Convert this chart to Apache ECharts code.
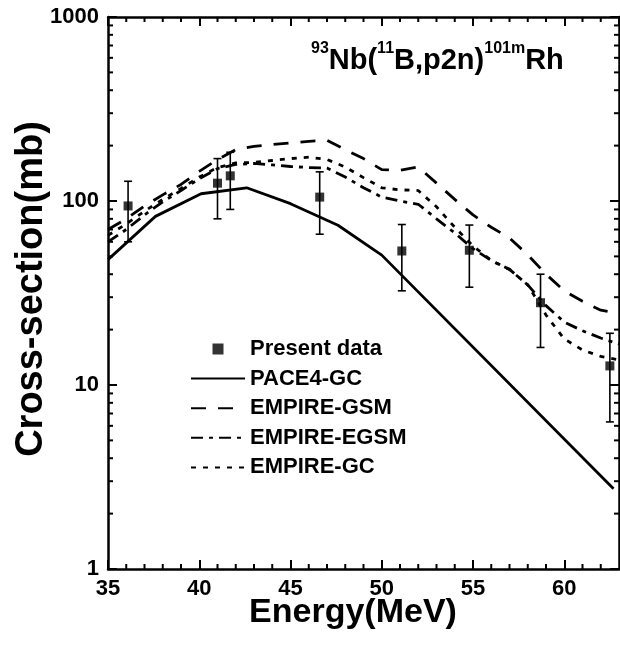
<!DOCTYPE html>
<html><head><meta charset="utf-8">
<script src="https://cdn.jsdelivr.net/npm/echarts@6/dist/echarts.min.js"></script>
<style>html,body{margin:0;padding:0;background:#fff}#c{width:620px;height:647px}</style>
</head><body><div id="c"></div>
<script>
// ---- data ----
const expEnergy = [36.1, 41.0, 41.7, 46.6, 51.1, 54.8, 58.7, 62.5];
const expCs     = [94, 125, 137, 105, 53.5, 54, 28, 12.7];
const expErr    = [34, 45, 47, 39, 21, 20, 12, 6.4];

const paceEnergy = [35, 37.6, 40.1, 42.6, 45.0, 47.6, 50.0, 62.7];
const paceCs     = [48, 82.5, 109.5, 118, 96.7, 73.8, 50.8, 2.73];

const empEnergy = [35,36,37,38,39,40,41,42,43,44,45,46,47,48,49,50,51,52,53,54,55,56,57,58,59,60,61,62,63];
const gsmCs  = [70,80,94,108,123,145,168,190,198,203,207,211,214,190,170,148,147,153,125,102,84,72,63,51,40,32.5,28.5,25.5,24.5];
const egsmCs = [60,70,84,99,114,132,150,158,160,157,154,152,151,135,118,105,100,96,80,67,55,47.5,42.5,35,27,22,19.7,18,16.7];
const gcCs   = [65,75,88,102,117,135,152,161,162,166,170,173,168,153,134,118,115,114,93,72,57,47.5,42.5,35,24,17.8,15.5,14.3,13.7];

const xTicks = [35, 40, 45, 50, 55, 60];
const xMinor = [36,37,38,39,41,42,43,44,46,47,48,49,51,52,53,54,56,57,58,59,61,62];
const yMinor = [2,3,4,5,6,7,8,9,20,30,40,50,60,70,80,90,200,300,400,500,600,700,800,900];

const FONT = '"Liberation Sans", Arial, sans-serif';
const zip = (a, b) => a.map((v, i) => [v, b[i]]);

const chart = echarts.init(document.getElementById('c'));

function axisCommon(pos, showLabel) {
  return {
    position: pos,
    axisLine: { show: true, onZero: false, lineStyle: { color: '#000', width: 2.5 } },
    axisTick: { show: true, inside: true, length: 9, lineStyle: { color: '#000', width: 2 } },
    splitLine: { show: false },
    axisLabel: { show: showLabel, color: '#000', fontSize: 22, fontWeight: 'bold', fontFamily: FONT, margin: 9,
      formatter: v => String(v) }
  };
}

const lineBase = (name, data, type) => ({
  name, type: 'line', data, symbol: 'none', showSymbol: false,
  lineStyle: { color: '#000', width: 2.8, type: type, cap: 'butt' },
  itemStyle: { color: '#000' }, z: 3, silent: true
});

const hideSym = { color: 'rgba(0,0,0,0)', borderWidth: 0, opacity: 0 };

chart.setOption({
  animation: false,
  backgroundColor: '#fff',
  grid: { left: 108, top: 17, width: 511, height: 552, containLabel: false },
  xAxis: [
    Object.assign({ type: 'value', min: 35, max: 63, interval: 5 }, axisCommon('bottom', true), {
      axisLabel: { show: true, color: '#000', fontSize: 22, fontWeight: 'bold', fontFamily: FONT, margin: 9, showMaxLabel: false,
        formatter: v => xTicks.indexOf(v) >= 0 ? String(v) : '' }
    }),
    Object.assign({ type: 'value', min: 35, max: 63, interval: 5 }, axisCommon('top', false))
  ],
  yAxis: [
    Object.assign({ type: 'log', logBase: 10, min: 1, max: 1000 }, axisCommon('left', true)),
    Object.assign({ type: 'log', logBase: 10, min: 1, max: 1000 }, axisCommon('right', false))
  ],
  legend: {
    orient: 'vertical', left: 185, top: 333, itemWidth: 54, itemHeight: 11, itemGap: 7.6,
    selectedMode: false, symbolKeepAspect: true,
    textStyle: { fontSize: 22, fontWeight: 'bold', color: '#000', fontFamily: FONT, lineHeight: 22 },
    data: [
      { name: 'Present data', icon: 'path://M0 0H10V10H0Z' },
      { name: 'PACE4-GC', itemStyle: hideSym },
      { name: 'EMPIRE-GSM', itemStyle: hideSym },
      { name: 'EMPIRE-EGSM', itemStyle: hideSym },
      { name: 'EMPIRE-GC', itemStyle: hideSym }
    ]
  },
  graphic: [
    { type: 'text', left: 311, top: 41, z: 10,
      style: {
        text: '{s|93}{m|Nb(}{s|11}{m|B,p2n)}{s|101m}{m|Rh}',
        fill: '#000',
        rich: {
          m: { fontSize: 29, fontWeight: 'bold', fontFamily: FONT, lineHeight: 34, verticalAlign: 'bottom', fill: '#000' },
          s: { fontSize: 16, fontWeight: 'bold', fontFamily: FONT, lineHeight: 16, verticalAlign: 'top', fill: '#000' }
        }
      } },
    { type: 'text', x: 353, y: 613, z: 10,
      style: { text: 'Energy(MeV)', align: 'center', verticalAlign: 'middle', fill: '#000', font: 'bold 34px ' + FONT } },
    { type: 'text', x: 32, y: 289, rotation: Math.PI / 2, z: 10,
      style: { text: 'Cross-section(mb)', align: 'center', verticalAlign: 'middle', fill: '#000', font: 'bold 38px ' + FONT } }
  ],
  series: [
    { name: 'Error bars', type: 'custom', silent: true, z: 4,
      data: expEnergy.map((e, i) => [e, expCs[i], expErr[i]]),
      renderItem: (params, api) => {
        const x = api.value(0), y = api.value(1), er = api.value(2);
        const hi = api.coord([x, y + er]);
        const lo = api.coord([x, y - er]);
        const st = { stroke: '#000', lineWidth: 1.6 };
        return { type: 'group', children: [
          { type: 'line', shape: { x1: hi[0], y1: hi[1], x2: lo[0], y2: lo[1] }, style: st },
          { type: 'line', shape: { x1: hi[0] - 4, y1: hi[1], x2: hi[0] + 4, y2: hi[1] }, style: st },
          { type: 'line', shape: { x1: lo[0] - 4, y1: lo[1], x2: lo[0] + 4, y2: lo[1] }, style: st }
        ] };
      } },
    { name: 'Present data', type: 'scatter', data: zip(expEnergy, expCs), symbol: 'rect', symbolSize: 9,
      itemStyle: { color: '#000' }, z: 5, silent: true },
    lineBase('PACE4-GC', zip(paceEnergy, paceCs), 'solid'),
    lineBase('EMPIRE-GSM', zip(empEnergy, gsmCs), [15, 12]),
    lineBase('EMPIRE-EGSM', zip(empEnergy, egsmCs), [12, 6, 4, 6]),
    lineBase('EMPIRE-GC', zip(empEnergy, gcCs), [5, 7]),
    { name: 'yMinorTicks', type: 'custom', silent: true, clip: false, z: 6,
      data: yMinor.map(v => [40, v]),
      renderItem: (params, api) => {
        const cs = params.coordSys;
        const y = api.coord([api.value(0), api.value(1)])[1];
        const st = { stroke: '#000', lineWidth: 2 };
        return { type: 'group', children: [
          { type: 'line', shape: { x1: cs.x, y1: y, x2: cs.x + 5, y2: y }, style: st },
          { type: 'line', shape: { x1: cs.x + cs.width - 5, y1: y, x2: cs.x + cs.width, y2: y }, style: st }
        ] };
      } },
    { name: 'xMinorTicks', type: 'custom', silent: true, clip: false, z: 6,
      data: xMinor.map(v => [v, 10]),
      renderItem: (params, api) => {
        const cs = params.coordSys;
        const x = api.coord([api.value(0), api.value(1)])[0];
        const st = { stroke: '#000', lineWidth: 2 };
        return { type: 'group', children: [
          { type: 'line', shape: { x1: x, y1: cs.y + cs.height, x2: x, y2: cs.y + cs.height - 5 }, style: st },
          { type: 'line', shape: { x1: x, y1: cs.y, x2: x, y2: cs.y + 5 }, style: st }
        ] };
      } }
  ]
});
</script>
</body></html>
